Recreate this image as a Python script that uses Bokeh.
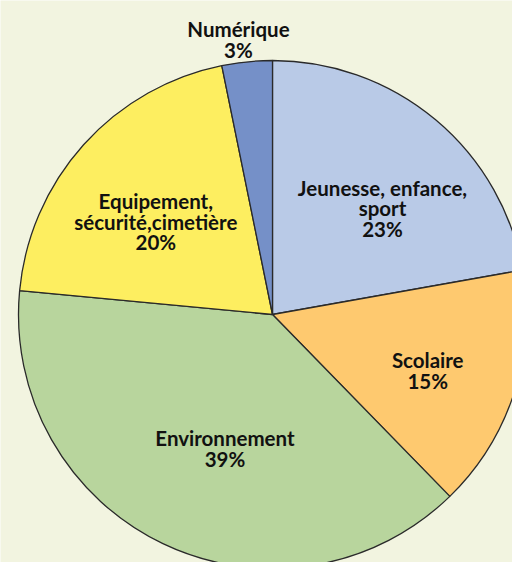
import math
from bokeh.plotting import figure
from bokeh.models import ColumnDataSource
from bokeh.core.properties import value
from bokeh.embed import file_html
from bokeh.resources import INLINE

# Data (clockwise from 12 o'clock)
categories = ["Jeunesse, enfance,\nsport", "Scolaire", "Environnement", "Equipement,\nsécurité,cimetière", "Numérique"]
shares = [22.2, 15.5, 38.8, 20.3, 3.2]          # angular shares
pct_labels = ["23%", "15%", "39%", "20%", "3%"]  # printed labels
colors = ["#b9cae7", "#fec96f", "#b8d59d", "#fdee60", "#7590c8"]
label_radius = [153, 165, 142, 149, 277]
label_angle_shift = [-6, -2, 6, 3.5, 1.3]        # degrees, relative to slice middle

BG = "#f2f4e0"
R = 254

total = sum(shares)
starts, ends, mids = [], [], []
cum = 0.0
for s in shares:
    a0 = math.pi / 2 - (cum + s) / total * 2 * math.pi
    a1 = math.pi / 2 - cum / total * 2 * math.pi
    starts.append(a0)
    ends.append(a1)
    mids.append((a0 + a1) / 2)
    cum += s

src = ColumnDataSource(dict(start=starts, end=ends, color=colors))

W, H = 512, 562
p = figure(width=W, height=H, x_range=(-272, 240), y_range=(-248, 314),
           output_backend="svg", toolbar_location=None, min_border=0)
p.axis.visible = False
p.grid.visible = False
p.outline_line_color = None
p.background_fill_color = BG
p.border_fill_color = BG

p.wedge(x=0, y=0, radius=R, start_angle="start", end_angle="end", direction="anticlock",
        fill_color="color", line_color="#2a2a2a", line_width=1.3, source=src)

tx, ty, tt = [], [], []
LH = 20.5
for cat, pct, m, r, sh in zip(categories, pct_labels, mids, label_radius, label_angle_shift):
    a = m + math.radians(sh)
    cx, cy = r * math.cos(a), r * math.sin(a)
    lines = cat.split("\n") + [pct]
    n = len(lines)
    for i, ln in enumerate(lines):
        tx.append(cx)
        ty.append(cy + (n - 1) / 2 * LH - i * LH)
        tt.append(ln)

p.text(x=tx, y=ty, text=tt, text_align="center", text_baseline="middle",
       text_font=value("Lato"), text_font_style="bold", text_font_size="20.5px",
       text_color="#111111")

html = file_html(p, INLINE)
html = html.replace("<body>", '<body style="background:%s">' % BG, 1)
open("out.html", "w").write(html)
